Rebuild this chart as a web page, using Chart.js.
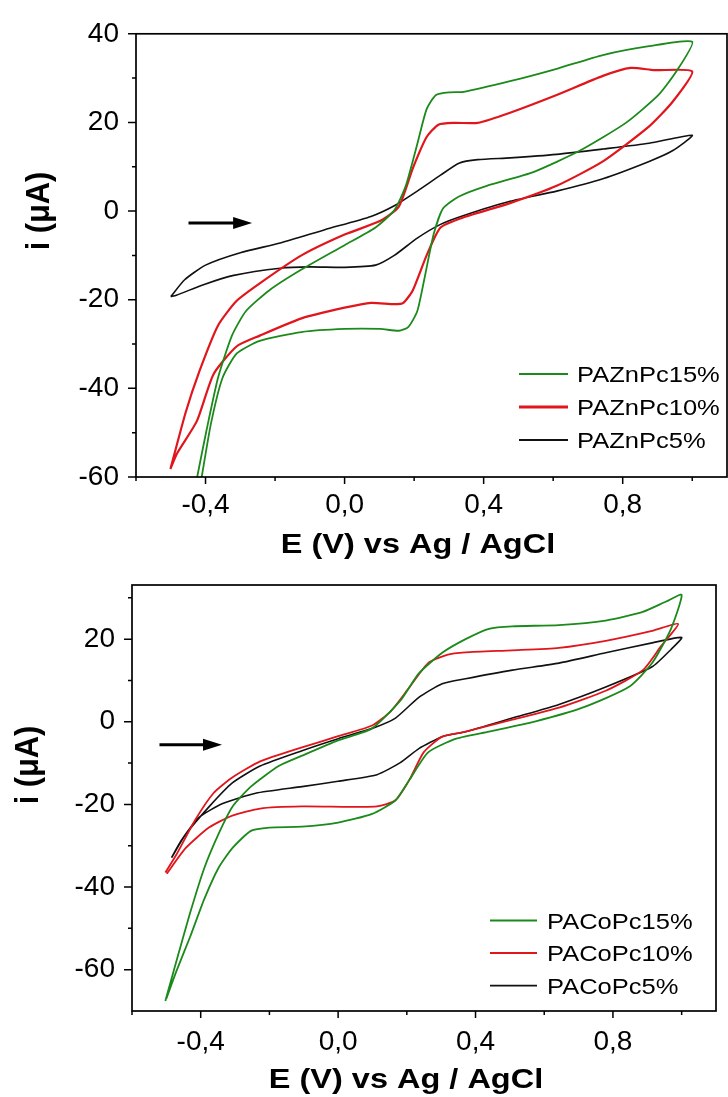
<!DOCTYPE html>
<html>
<head>
<meta charset="utf-8">
<script src="https://cdn.jsdelivr.net/npm/chart.js@4.4.0/dist/chart.umd.min.js"></script>
<style>
  html, body { margin: 0; padding: 0; background: #fff; }
  body { width: 728px; height: 1097px; position: relative; overflow: hidden; }
  canvas { position: absolute; left: 0; }
  #znChart { top: 0; }
  #coChart { top: 545px; }
</style>
</head>
<body>
<canvas id="znChart" width="728" height="570"></canvas>
<canvas id="coChart" width="728" height="552"></canvas>
<script>
// ---- top panel: PAZnPc films (E in V, i in uA), forward scan then reverse ----
const zn15E = [-0.428, -0.424, -0.397, -0.364, -0.324, -0.284, -0.217, -0.124, 0, 0.089, 0.143, 0.176, 0.209, 0.236, 0.263, 0.303, 0.343, 0.476, 0.61, 0.743, 0.876, 1.0,
  0.956, 0.903, 0.809, 0.676, 0.543, 0.409, 0.329, 0.283, 0.256, 0.229, 0.209, 0.183, 0.156, 0.103, 0, -0.124, -0.244, -0.31, -0.351, -0.384, -0.411, -0.415];
const zn15I = [-62, -60, -49.4, -37.6, -28.1, -22.6, -17.9, -13.2, -7.7, -3.7, 0.2, 5.7, 15.1, 23, 26.2, 26.8, 26.9, 29.3, 32.1, 35.2, 37.2, 38.2,
  31.7, 26.2, 19.9, 13.6, 8.8, 5.7, 3.3, 0.6, -5.3, -15.5, -22.6, -26.2, -27, -26.6, -26.6, -27.3, -29.3, -32.1, -37.6, -47.8, -60, -62];

const zn10E = [-0.501, -0.457, -0.417, -0.364, -0.311, -0.244, -0.124, 0, 0.103, 0.156, 0.196, 0.236, 0.27, 0.316, 0.383, 0.476, 0.61, 0.743, 0.823, 0.89, 1.0,
  0.943, 0.876, 0.743, 0.61, 0.476, 0.343, 0.276, 0.236, 0.196, 0.169, 0.143, 0.076, 0, -0.124, -0.244, -0.31, -0.377, -0.425, -0.482, -0.501];
const zn10I = [-58.2, -45.4, -36, -25.8, -20.3, -16.3, -10, -5.3, -2.2, 1, 9.6, 16.7, 19.5, 19.9, 19.9, 22.2, 26.2, 30.5, 32.3, 31.8, 31.5,
  24.6, 19.1, 11.2, 5.7, 1.8, -1.4, -3.7, -10, -17.9, -20.7, -21, -20.7, -21.8, -24.2, -28.1, -30.5, -36.8, -47.4, -54.7, -58.2];

const zn5E = [-0.5, -0.46, -0.4, -0.3, -0.185, -0.057, 0.076, 0.143, 0.209, 0.276, 0.329, 0.383, 0.476, 0.61, 0.743, 0.876, 1.0,
  0.943, 0.876, 0.743, 0.61, 0.476, 0.343, 0.276, 0.209, 0.143, 0.089, 0, -0.1, -0.185, -0.319, -0.406, -0.484, -0.5];
const zn5I = [-19.3, -15.5, -12.2, -9.4, -7.2, -4.2, -1.2, 1.2, 4.5, 8.1, 10.8, 11.6, 12, 12.8, 14, 15.3, 17.1,
  13.6, 11.2, 7.3, 4.5, 2.2, -1, -3, -6.1, -10, -12.2, -12.7, -12.6, -12.9, -14.5, -16.6, -19, -19.3];

// ---- bottom panel: PACoPc films ----
const co15E = [-0.503, -0.471, -0.431, -0.39, -0.349, -0.308, -0.254, -0.173, -0.105, 0, 0.099, 0.181, 0.235, 0.303, 0.371, 0.439, 0.507, 0.643, 0.779, 0.887, 0.955, 1.0,
  0.969, 0.914, 0.846, 0.711, 0.575, 0.439, 0.344, 0.262, 0.208, 0.167, 0.099, 0, -0.105, -0.2, -0.254, -0.308, -0.349, -0.39, -0.431, -0.471, -0.5];
const co15I = [-67.6, -58, -46.3, -35.5, -27.3, -20.6, -15.7, -10.7, -8.2, -4.5, -1.6, 5.1, 11.7, 16.7, 20, 22.5, 23.1, 23.4, 24.5, 26.6, 29.1, 30.7,
  22.5, 14.2, 8.4, 3.4, 0.1, -2.4, -4.1, -7.4, -14, -19, -22.3, -24.4, -25.4, -25.6, -26.4, -30.6, -35.5, -43, -52.1, -60.4, -67];

const co10E = [-0.503, -0.471, -0.417, -0.363, -0.308, -0.227, -0.105, 0, 0.099, 0.154, 0.208, 0.262, 0.317, 0.371, 0.507, 0.643, 0.779, 0.914, 0.99,
  0.94, 0.887, 0.779, 0.643, 0.507, 0.371, 0.303, 0.249, 0.208, 0.167, 0.113, 0.031, -0.105, -0.227, -0.308, -0.376, -0.444, -0.499];
const co10I = [-36.5, -32.2, -23.9, -17.3, -13.5, -9.6, -6.2, -3.5, -0.9, 2.6, 8.4, 14.2, 16.2, 16.8, 17.3, 17.9, 19.6, 22, 23.7,
  18.3, 12.5, 7.5, 3.4, 0.5, -2.4, -3.6, -7.4, -14, -19, -20.5, -20.6, -20.5, -21, -22.7, -25.6, -30.6, -36.8];

const co5E = [-0.485, -0.444, -0.376, -0.308, -0.227, -0.105, 0, 0.099, 0.167, 0.235, 0.303, 0.371, 0.507, 0.643, 0.779, 0.914, 1.0,
  0.969, 0.914, 0.779, 0.643, 0.507, 0.371, 0.303, 0.235, 0.181, 0.113, 0, -0.105, -0.24, -0.336, -0.404, -0.458, -0.485];
const co5I = [-32.9, -27.3, -20.6, -14.8, -10.7, -7, -4.1, -1.6, 0.9, 5.9, 9.2, 10.4, 12.5, 14.2, 16.7, 19.1, 20.4,
  17.5, 13.3, 8.4, 4.2, 0.9, -2.4, -3.6, -6.5, -9.9, -12.8, -14.4, -15.7, -17.3, -19.8, -23.1, -28.9, -32.9];

// ---- axes ----
const xMajor = [-0.4, 0, 0.4, 0.8];
const xMinor = [-0.6, -0.2, 0.2, 0.6, 1.0];
const xTickLabels = ['-0,4', '0,0', '0,4', '0,8'];
const yMajor = [-60, -40, -20, 0, 20, 40];
const yMinor = [-50, -30, -10, 10, 30];
const yTickLabelsTop = ['-60', '-40', '-20', '0', '20', '40'];
const yMajorBottom = [-60, -40, -20, 0, 20];
const yMinorBottom = [-70, -50, -30, -10, 10, 30];
const yTickLabelsBottom = ['-60', '-40', '-20', '0', '20'];

const GREEN = '#1b8a1b';
const RED = '#e0161c';
const BLACK = '#111111';
const FONT = '"Liberation Sans", Arial, sans-serif';

function pts(es, is) {
  return es.map((e, k) => ({ x: e, y: is[k] }));
}

// frame, tick marks, arrow, legend and axis titles
const cvDecor = {
  id: 'cvDecor',
  afterDraw(chart, args, o) {
    const { ctx, chartArea: a, scales: { x, y } } = chart;
    ctx.save();
    ctx.strokeStyle = '#000';
    ctx.fillStyle = '#000';

    ctx.lineWidth = 1.7;
    ctx.strokeRect(a.left, a.top, a.right - a.left, a.bottom - a.top);

    ctx.lineWidth = 1.5;
    ctx.beginPath();
    o.xMajor.forEach(v => { const p = x.getPixelForValue(v); ctx.moveTo(p, a.bottom); ctx.lineTo(p, a.bottom + 7); });
    o.xMinor.forEach(v => { const p = x.getPixelForValue(v); ctx.moveTo(p, a.bottom); ctx.lineTo(p, a.bottom + 4); });
    o.yMajor.forEach(v => { const p = y.getPixelForValue(v); ctx.moveTo(a.left, p); ctx.lineTo(a.left - 8, p); });
    o.yMinor.forEach(v => { const p = y.getPixelForValue(v); if (p < a.bottom - 1) { ctx.moveTo(a.left, p); ctx.lineTo(a.left - 4, p); } });
    ctx.stroke();

    // scan direction arrow
    const ax1 = x.getPixelForValue(o.arrow.from), ax2 = x.getPixelForValue(o.arrow.to);
    const ay = y.getPixelForValue(o.arrow.at);
    ctx.lineWidth = 3;
    ctx.beginPath();
    ctx.moveTo(ax1, ay);
    ctx.lineTo(ax2 - 14, ay);
    ctx.stroke();
    ctx.beginPath();
    ctx.moveTo(ax2, ay);
    ctx.lineTo(ax2 - 19, ay - 6);
    ctx.lineTo(ax2 - 19, ay + 6);
    ctx.closePath();
    ctx.fill();

    // legend
    ctx.font = '22px ' + FONT;
    ctx.textBaseline = 'alphabetic';
    chart.data.datasets.forEach((ds, k) => {
      const ry = o.legend.rows[k];
      ctx.strokeStyle = ds.borderColor;
      ctx.lineWidth = ds.legendWidth;
      ctx.beginPath();
      ctx.moveTo(o.legend.lineFrom, ry);
      ctx.lineTo(o.legend.lineTo, ry);
      ctx.stroke();
      ctx.save();
      ctx.translate(o.legend.textX, ry + 8);
      ctx.scale(1.16, 1);
      ctx.fillStyle = '#000';
      ctx.fillText(ds.label, 0, 0);
      ctx.restore();
    });

    // axis titles
    ctx.fillStyle = '#000';
    ctx.font = 'bold 28px ' + FONT;
    ctx.save();
    ctx.translate(o.xTitle.x, o.xTitle.y);
    ctx.scale(1.16, 1);
    ctx.textAlign = 'center';
    ctx.fillText(o.xTitle.text, 0, 0);
    ctx.restore();

    ctx.save();
    ctx.translate(o.yTitle.x, o.yTitle.y);
    ctx.rotate(-Math.PI / 2);
    ctx.scale(1.1, 1.16);
    ctx.textAlign = 'center';
    ctx.textBaseline = 'middle';
    ctx.fillText(o.yTitle.text, 0, 0);
    ctx.restore();

    ctx.restore();
  }
};

function makeChart(id, sets, p) {
  return new Chart(document.getElementById(id), {
    type: 'scatter',
    data: {
      datasets: sets.map(s => ({
        label: s.label,
        data: pts(s.e, s.i),
        showLine: true,
        borderColor: s.color,
        borderWidth: s.width,
        legendWidth: s.legendWidth,
        pointRadius: 0,
        tension: 0.2,
        fill: false
      }))
    },
    options: {
      responsive: false,
      animation: false,
      events: [],
      layout: { padding: { left: 0, top: p.top, right: p.right, bottom: 0 } },
      scales: {
        x: {
          type: 'linear',
          min: -0.6,
          max: 1.1,
          grid: { display: false, drawTicks: false },
          border: { display: false },
          afterBuildTicks: s => { s.ticks = xMajor.map(v => ({ value: v })); },
          afterFit: s => { s.height = p.xHeight; },
          ticks: {
            autoSkip: false,
            maxRotation: 0,
            padding: p.xPad,
            color: '#000',
            font: { family: FONT, size: 28 },
            callback: (v, k) => xTickLabels[k]
          }
        },
        y: {
          type: 'linear',
          min: p.yMin,
          max: p.yMax,
          grid: { display: false, drawTicks: false },
          border: { display: false },
          afterBuildTicks: s => { s.ticks = p.yMajor.map(v => ({ value: v })); },
          afterFit: s => { s.width = p.yWidth; },
          ticks: {
            autoSkip: false,
            padding: 17,
            color: '#000',
            font: { family: FONT, size: 28 },
            callback: (v, k) => p.yLabels[k]
          }
        }
      },
      plugins: {
        legend: { display: false },
        tooltip: { enabled: false },
        cvDecor: {
          xMajor: xMajor, xMinor: xMinor,
          yMajor: p.yMajor, yMinor: p.yMinor,
          arrow: p.arrow,
          legend: p.legend,
          xTitle: { text: 'E (V) vs Ag / AgCl', x: p.xTitleX, y: p.xTitleY },
          yTitle: { text: 'i (μA)', x: p.yTitleX, y: p.yTitleY }
        }
      }
    },
    plugins: [cvDecor]
  });
}

makeChart('znChart', [
  { label: 'PAZnPc15%', e: zn15E, i: zn15I, color: GREEN, width: 1.8, legendWidth: 2 },
  { label: 'PAZnPc10%', e: zn10E, i: zn10I, color: RED, width: 2.2, legendWidth: 3 },
  { label: 'PAZnPc5%', e: zn5E, i: zn5I, color: BLACK, width: 1.6, legendWidth: 1.8 }
], {
  top: 23, right: 1, xHeight: 93, yWidth: 136, xPad: 11,
  yMin: -60, yMax: 40, yMajor: yMajor, yMinor: yMinor, yLabels: yTickLabelsTop,
  arrow: { from: -0.449, to: -0.266, at: -2.7 },
  legend: { rows: [374, 407, 440], lineFrom: 519, lineTo: 568, textX: 577 },
  xTitleX: 418, xTitleY: 553, yTitleX: 40, yTitleY: 211
});

makeChart('coChart', [
  { label: 'PACoPc15%', e: co15E, i: co15I, color: GREEN, width: 1.8, legendWidth: 2 },
  { label: 'PACoPc10%', e: co10E, i: co10I, color: RED, width: 1.8, legendWidth: 2 },
  { label: 'PACoPc5%', e: co5E, i: co5I, color: BLACK, width: 1.6, legendWidth: 1.8 }
], {
  top: 40, right: 12, xHeight: 86, yWidth: 132, xPad: 14,
  yMin: -70, yMax: 33.1, yMajor: yMajorBottom, yMinor: yMinorBottom, yLabels: yTickLabelsBottom,
  arrow: { from: -0.52, to: -0.338, at: -5.56 },
  legend: { rows: [375.5, 408, 440.7], lineFrom: 490, lineTo: 537, textX: 547 },
  xTitleX: 406, xTitleY: 543, yTitleX: 29, yTitleY: 220
});
</script>
</body>
</html>
